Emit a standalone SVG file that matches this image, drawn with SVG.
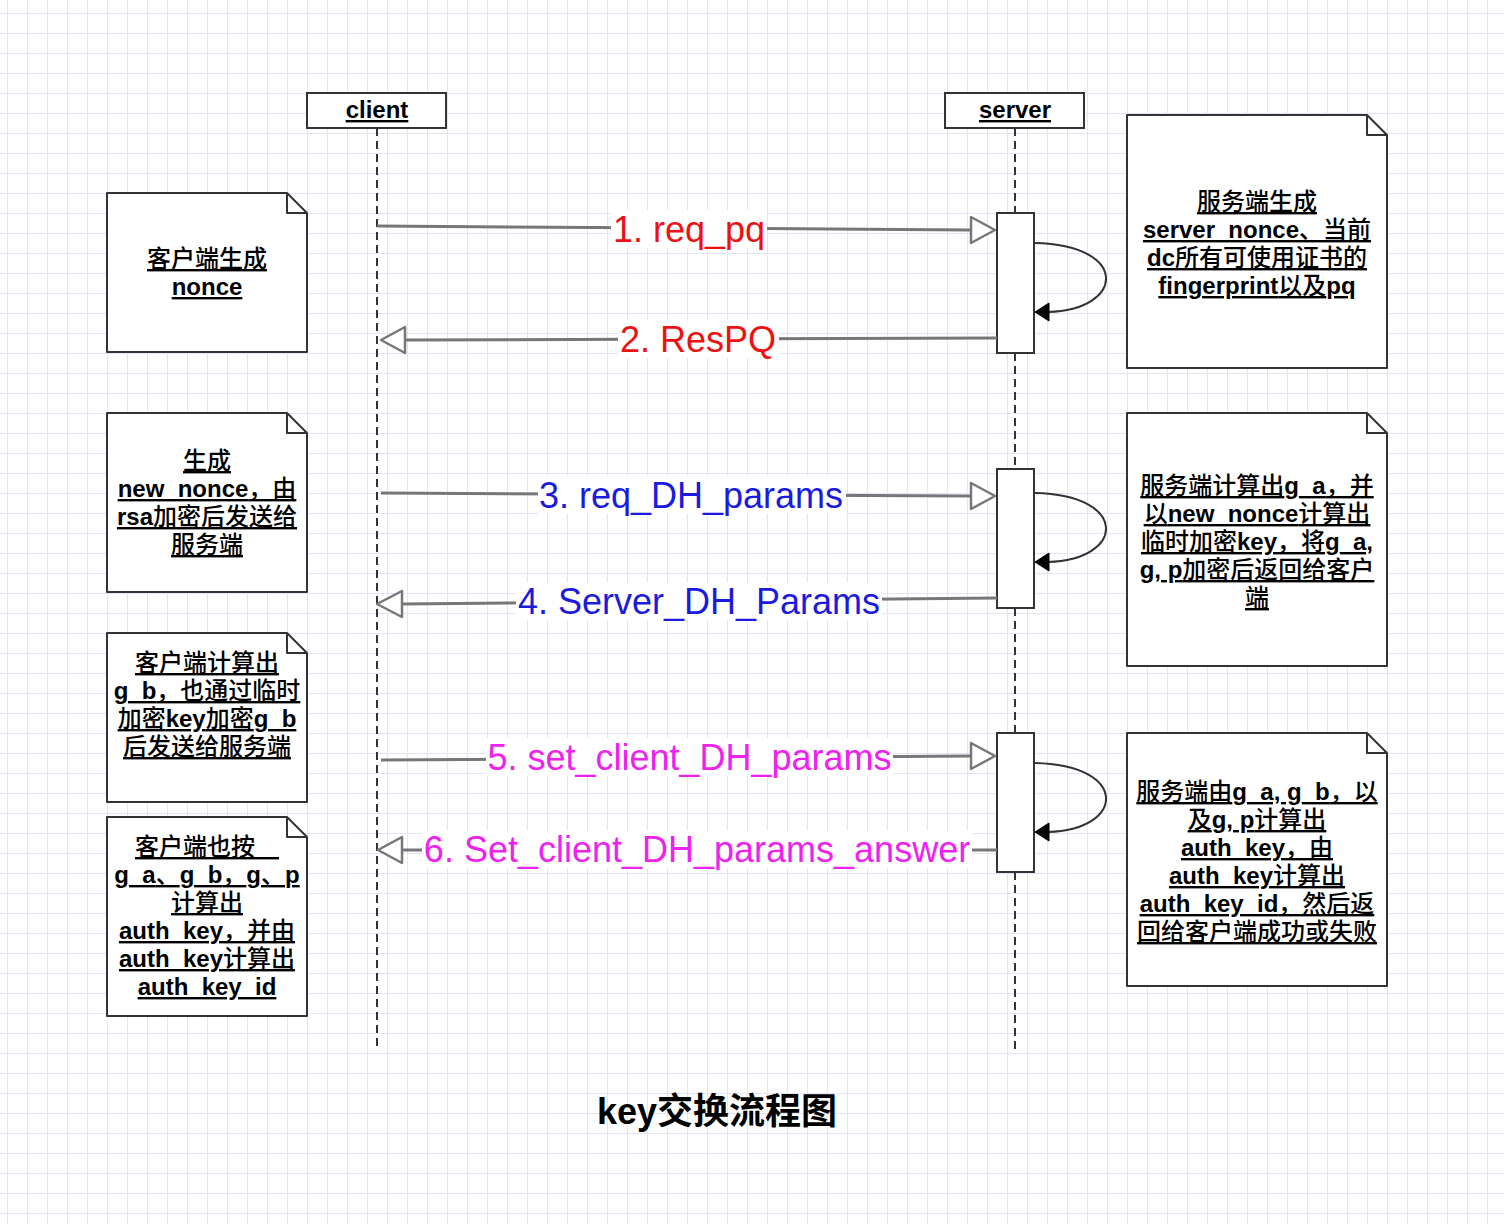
<svg xmlns="http://www.w3.org/2000/svg" width="1504" height="1224" viewBox="0 0 1504 1224">
<defs>
<pattern id="grid" patternUnits="userSpaceOnUse" x="7" y="13" width="20" height="20">
<path d="M0,0 H20 M0,0 V20" stroke="#e3e3fb" stroke-width="2" fill="none"/>
</pattern>
<style>
.box{fill:#fff;stroke:#333;stroke-width:2}
.note{fill:#fff;stroke:#333;stroke-width:2;stroke-linejoin:round}
.fold{fill:none;stroke:#333;stroke-width:2;stroke-linejoin:round}
.life{stroke:#333;stroke-width:2;stroke-dasharray:8 5;fill:none}
.nt{font-family:"Liberation Sans","Noto Sans CJK SC",sans-serif;font-weight:bold;font-size:24px;text-anchor:middle;text-decoration:underline;fill:#000}
.c{font-weight:500}
.hd{font-family:"Liberation Sans","Noto Sans CJK SC",sans-serif;font-weight:bold;font-size:24px;text-anchor:middle;text-decoration:underline;fill:#000}
.msg{stroke:#777;stroke-width:3;fill:none}
.oa{fill:#fff;stroke:#777;stroke-width:2.5;stroke-linejoin:round}
.loop{stroke:#333;stroke-width:2;fill:none}
.fa{fill:#000;stroke:#000;stroke-width:1}
.ml{font-family:"Liberation Sans",sans-serif;font-size:36px;text-anchor:middle}
.bg{fill:#fff}
.title{font-family:"Liberation Sans","Noto Sans CJK SC",sans-serif;font-weight:bold;font-size:36px;text-anchor:middle;fill:#000}
</style>
</defs>
<rect x="0" y="0" width="1504" height="1224" fill="#fff"/>
<rect x="0" y="0" width="1504" height="1224" fill="url(#grid)"/>

<g id="lifelines">
<path class="life" d="M377,128 V1050"/>
<path class="life" d="M1015,128 V213 M1015,353 V469 M1015,608 V733 M1015,872 V1050"/>
</g>

<g id="client">
<rect class="box" x="307" y="93" width="139" height="35"/>
<text class="hd" x="377" y="118">client</text>
</g>
<g id="server">
<rect class="box" x="945" y="93" width="139" height="35"/>
<text class="hd" x="1015" y="118">server</text>
</g>

<g id="activation1"><rect class="box" x="997" y="213" width="37" height="140"/></g>
<g id="activation2"><rect class="box" x="997" y="469" width="37" height="139"/></g>
<g id="activation3"><rect class="box" x="997" y="733" width="37" height="139"/></g>

<g id="connectors">
<path class="msg" d="M377,226 L971,230"/>
<polygon class="oa" points="971,217 995,230 971,243"/>
<rect class="bg" x="611" y="210" width="156" height="38"/>
<text class="ml" x="689" y="242" fill="#ee1111">1. req_pq</text>
<path class="msg" d="M997,338 L405,340"/>
<polygon class="oa" points="405,327 381,340 405,353"/>
<rect class="bg" x="618" y="320" width="161" height="38"/>
<text class="ml" x="698" y="352" fill="#ee1111">2. ResPQ</text>
<path class="msg" d="M381,493 L971,496"/>
<polygon class="oa" points="971,483 995,496 971,509"/>
<rect class="bg" x="538" y="476" width="308" height="38"/>
<text class="ml" x="691" y="508" fill="#1a1ae0">3. req_DH_params</text>
<path class="msg" d="M997,598 L402,604"/>
<polygon class="oa" points="402,591 377,604 402,617"/>
<rect class="bg" x="516" y="582" width="366" height="38"/>
<text class="ml" x="699" y="614" fill="#1a1ae0">4. Server_DH_Params</text>
<path class="msg" d="M381,760 L971,756"/>
<polygon class="oa" points="971,743 995,756 971,769"/>
<rect class="bg" x="486" y="738" width="407" height="38"/>
<text class="ml" x="689.5" y="770" fill="#ee22ee">5. set_client_DH_params</text>
<path class="msg" d="M997,850 L402,850"/>
<polygon class="oa" points="402,837 378,850 402,863"/>
<rect class="bg" x="422" y="830" width="550" height="38"/>
<text class="ml" x="697" y="862" fill="#ee22ee">6. Set_client_DH_params_answer</text>
<path class="loop" d="M1035,243 C1130,245 1125,310 1048,312"/>
<polygon class="fa" points="1035,312 1049,303 1049,321"/>
<path class="loop" d="M1035,493 C1130,495 1125,560 1048,562"/>
<polygon class="fa" points="1035,562 1049,553 1049,571"/>
<path class="loop" d="M1035,763 C1130,765 1125,830 1048,832"/>
<polygon class="fa" points="1035,832 1049,823 1049,841"/>
</g>

<g id="note-client-1">
<path class="note" d="M107,193 H287 L307,213 V352 H107 Z"/>
<path class="fold" d="M287,193 V213 H307"/>
<text class="nt" x="207" y="267"><tspan class="c">客户端生成</tspan></text>
<text class="nt" x="207" y="295">nonce</text>
</g>
<g id="note-client-2">
<path class="note" d="M107,413 H287 L307,433 V592 H107 Z"/>
<path class="fold" d="M287,413 V433 H307"/>
<text class="nt" x="207" y="469"><tspan class="c">生成</tspan></text>
<text class="nt" x="207" y="497">new_nonce<tspan class="c">，由</tspan></text>
<text class="nt" x="207" y="525">rsa<tspan class="c">加密后发送给</tspan></text>
<text class="nt" x="207" y="553"><tspan class="c">服务端</tspan></text>
</g>
<g id="note-client-3">
<path class="note" d="M107,633 H287 L307,653 V802 H107 Z"/>
<path class="fold" d="M287,633 V653 H307"/>
<text class="nt" x="207" y="671"><tspan class="c">客户端计算出</tspan></text>
<text class="nt" x="207" y="699">g_b<tspan class="c">，也通过临时</tspan></text>
<text class="nt" x="207" y="727"><tspan class="c">加密</tspan>key<tspan class="c">加密</tspan>g_b</text>
<text class="nt" x="207" y="755"><tspan class="c">后发送给服务端</tspan></text>
</g>
<g id="note-client-4">
<path class="note" d="M107,817 H287 L307,837 V1016 H107 Z"/>
<path class="fold" d="M287,817 V837 H307"/>
<text class="nt" x="207" y="855"><tspan class="c">客户端也按　</tspan></text>
<text class="nt" x="207" y="883">g_a<tspan class="c">、</tspan>g_b<tspan class="c">，</tspan>g<tspan class="c">、</tspan>p</text>
<text class="nt" x="207" y="911"><tspan class="c">计算出</tspan></text>
<text class="nt" x="207" y="939">auth_key<tspan class="c">，并由</tspan></text>
<text class="nt" x="207" y="967">auth_key<tspan class="c">计算出</tspan></text>
<text class="nt" x="207" y="995">auth_key_id</text>
</g>
<g id="note-server-1">
<path class="note" d="M1127,115 H1367 L1387,135 V368 H1127 Z"/>
<path class="fold" d="M1367,115 V135 H1387"/>
<text class="nt" x="1257" y="210"><tspan class="c">服务端生成</tspan></text>
<text class="nt" x="1257" y="238">server_nonce<tspan class="c">、当前</tspan></text>
<text class="nt" x="1257" y="266">dc<tspan class="c">所有可使用证书的</tspan></text>
<text class="nt" x="1257" y="294">fingerprint<tspan class="c">以及</tspan>pq</text>
</g>
<g id="note-server-2">
<path class="note" d="M1127,413 H1367 L1387,433 V666 H1127 Z"/>
<path class="fold" d="M1367,413 V433 H1387"/>
<text class="nt" x="1257" y="494"><tspan class="c">服务端计算出</tspan>g_a<tspan class="c">，并</tspan></text>
<text class="nt" x="1257" y="522"><tspan class="c">以</tspan>new_nonce<tspan class="c">计算出</tspan></text>
<text class="nt" x="1257" y="550"><tspan class="c">临时加密</tspan>key<tspan class="c">，将</tspan>g_a,</text>
<text class="nt" x="1257" y="578">g, p<tspan class="c">加密后返回给客户</tspan></text>
<text class="nt" x="1257" y="606"><tspan class="c">端</tspan></text>
</g>
<g id="note-server-3">
<path class="note" d="M1127,733 H1367 L1387,753 V986 H1127 Z"/>
<path class="fold" d="M1367,733 V753 H1387"/>
<text class="nt" x="1257" y="800"><tspan class="c">服务端由</tspan>g_a, g_b<tspan class="c">，以</tspan></text>
<text class="nt" x="1257" y="828"><tspan class="c">及</tspan>g, p<tspan class="c">计算出</tspan></text>
<text class="nt" x="1257" y="856">auth_key<tspan class="c">，由</tspan></text>
<text class="nt" x="1257" y="884">auth_key<tspan class="c">计算出</tspan></text>
<text class="nt" x="1257" y="912">auth_key_id<tspan class="c">，然后返</tspan></text>
<text class="nt" x="1257" y="940"><tspan class="c">回给客户端成功或失败</tspan></text>
</g>

<g id="title">
<text class="title" x="717" y="1124">key交换流程图</text>
</g>
</svg>
